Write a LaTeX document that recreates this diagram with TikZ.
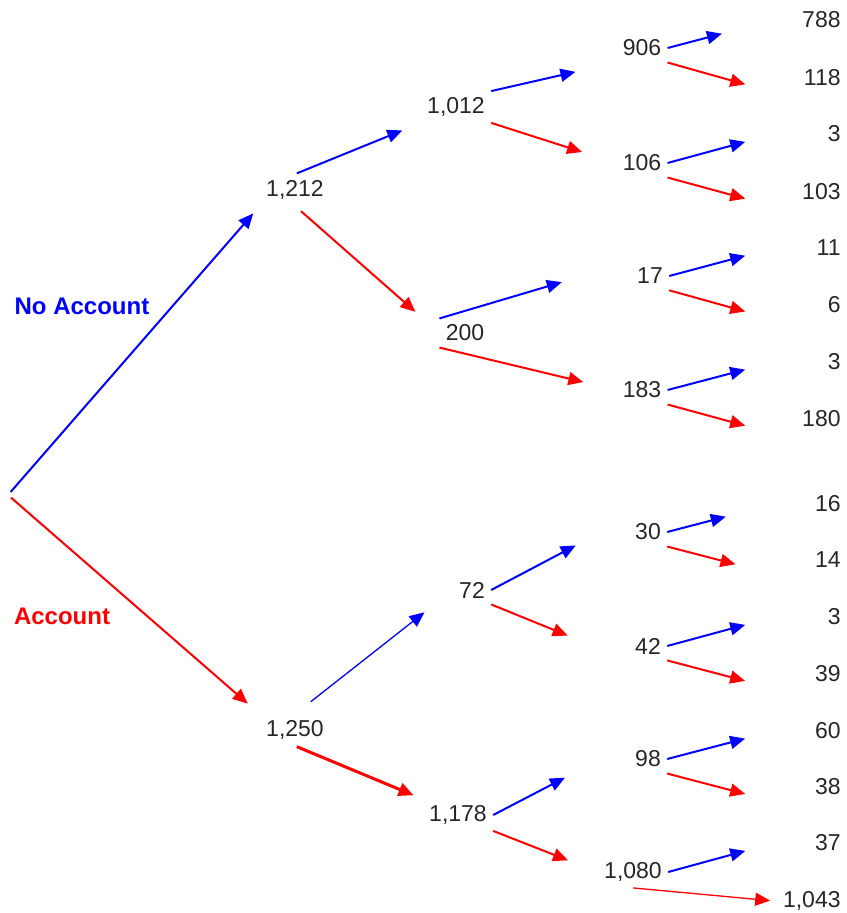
\documentclass[tikz,border=0pt]{standalone}
\usepackage{fontspec}
\setmainfont{Liberation Sans}
\usetikzlibrary{arrows.meta}
\tikzset{
  num/.style={font=\fontsize{11.5}{13}\selectfont, text=black!85, inner sep=3pt},
  leaf/.style={num, text width=30pt, align=right, anchor=east},
  branch/.style={line width=1pt, -{Triangle[length=7.5pt,width=6.5pt]}},
  noacct/.style={branch, color=blue},
  acct/.style={branch, color=red},
  tag/.style={font=\fontsize{12}{14}\selectfont\bfseries}
}

\begin{document}
\begin{tikzpicture}[x=0.5pt, y=-0.5pt]
\useasboundingbox (0,0) rectangle (846,913);
\coordinate (root) at (8,495);
\node[tag, text=blue] (tagno) at (82,306) {No Account};
\node[tag, text=red] (tagyes) at (62,616) {Account};
% first and second split
\node[num] (n1212) at (295,190) {1,212};
\node[num] (n1250) at (295,730) {1,250};
\node[num] (n1012) at (456,107) {1,012};
\node[num] (n200) at (465,333) {200};
\node[num] (n72) at (472,590) {72};
\node[num] (n1178) at (458,815) {1,178};
% third split
\node[num] (n906) at (642,48) {906};
\node[num] (n106) at (642,163) {106};
\node[num] (n17) at (650,276) {17};
\node[num] (n183) at (642,390) {183};
\node[num] (n30) at (648,532) {30};
\node[num] (n42) at (648,646) {42};
\node[num] (n98) at (648,759) {98};
\node[num] (n1080) at (633,872) {1,080};
% leaves
\node[leaf] (l788) at (847,20) {788};
\node[leaf] (l118) at (847,78) {118};
\node[leaf] (l3a) at (847,134) {3};
\node[leaf] (l103) at (847,192) {103};
\node[leaf] (l11) at (847,248) {11};
\node[leaf] (l6) at (847,305) {6};
\node[leaf] (l3b) at (847,362) {3};
\node[leaf] (l180) at (847,419) {180};
\node[leaf] (l16) at (847,504) {16};
\node[leaf] (l14) at (847,560) {14};
\node[leaf] (l3c) at (847,617) {3};
\node[leaf] (l39) at (847,674) {39};
\node[leaf] (l60) at (847,731) {60};
\node[leaf] (l38) at (847,787) {38};
\node[leaf] (l37) at (847,843) {37};
\node[leaf] (l1043) at (847,901) {1,043};

\draw[noacct, shorten <=2pt, shorten >=5pt] (root) -- (n1212.south west);
\draw[acct, shorten <=2pt, shorten >=8pt] (root) -- (n1250.north west);
\draw[noacct, shorten <=1pt, shorten >=10pt] (n1212.north) -- (n1012.south west);
\draw[acct, shorten <=4pt, shorten >=16pt] (n1212.south) -- (n200.west);
\draw[noacct, line width=0.65pt, shorten <=10pt, shorten >=18pt] (n1250.north) -- (n72.west);
\draw[acct, line width=1.5pt, shorten <=1pt, shorten >=5pt] (n1250.south) -- (n1178.north west);
\draw[noacct, shorten >=21pt] (n1012.north east) -- (n906.south west);
\draw[acct, shorten >=18pt] (n1012.south east) -- (n106.west);
\draw[noacct, shorten >=36pt] (n200.north west) -- (n17.north west);
\draw[acct, shorten >=17pt] (n200.south west) -- (n183.west);
\draw[noacct, shorten >=30pt] (n72.east) -- (n30.north west);
\draw[acct, shorten >=33pt] (n72.south east) -- (n42.south west);
\draw[noacct, shorten >=36pt] (n1178.east) -- (n98.north west);
\draw[acct, shorten >=16pt] (n1178.south east) -- (n1080.west);

\draw[noacct, shorten >=27pt] (n906.east) -- (l788.west);
\draw[acct, shorten >=15pt] (n906.south east) -- (l118.south west);
\draw[noacct, shorten >=15pt] (n106.east) -- (l3a.west);
\draw[acct, shorten >=15pt] (n106.south east) -- (l103.south west);
\draw[noacct, shorten >=15pt] (n17.east) -- (l11.west);
\draw[acct, shorten >=15pt] (n17.south east) -- (l6.south west);
\draw[noacct, shorten >=15pt] (n183.east) -- (l3b.west);
\draw[acct, shorten >=15pt] (n183.south east) -- (l180.south west);
\draw[noacct, shorten >=25pt] (n30.east) -- (l16.west);
\draw[acct, shorten >=20pt] (n30.south east) -- (l14.south west);
\draw[noacct, shorten >=15pt] (n42.east) -- (l3c.west);
\draw[acct, shorten >=15pt] (n42.south east) -- (l39.south west);
\draw[noacct, shorten >=15pt] (n98.east) -- (l60.west);
\draw[acct, shorten >=15pt] (n98.south east) -- (l38.south west);
\draw[noacct, shorten >=15pt] (n1080.east) -- (l37.west);
\draw[acct, line width=0.65pt, shorten >=2pt] (n1080.south) -- (l1043.west);
\end{tikzpicture}
\end{document}
